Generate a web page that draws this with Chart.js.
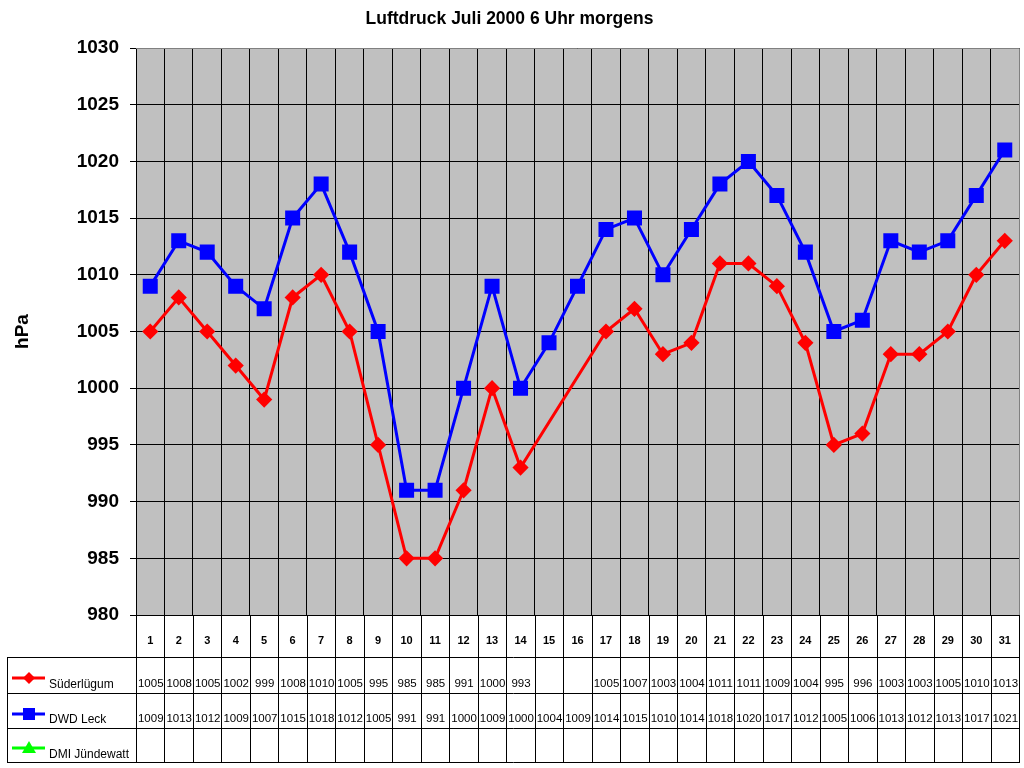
<!DOCTYPE html>
<html>
<head>
<meta charset="utf-8">
<script src="https://cdn.jsdelivr.net/npm/chart.js@4"></script>
<style>
html,body{margin:0;padding:0;background:#fff;}
#wrap{width:1024px;height:768px;position:relative;}
</style>
</head>
<body>
<div id="wrap"><canvas id="c" width="1024" height="768"></canvas></div>
<script>
const days = ['1','2','3','4','5','6','7','8','9','10','11','12','13','14','15','16','17','18','19','20','21','22','23','24','25','26','27','28','29','30','31'];
const suederluegum = [1005,1008,1005,1002,999,1008,1010,1005,995,985,985,991,1000,993,null,null,1005,1007,1003,1004,1011,1011,1009,1004,995,996,1003,1003,1005,1010,1013];
const dwdLeck = [1009,1013,1012,1009,1007,1015,1018,1012,1005,991,991,1000,1009,1000,1004,1009,1014,1015,1010,1014,1018,1020,1017,1012,1005,1006,1013,1012,1013,1017,1021];
const dmiJuendewatt = [null,null,null,null,null,null,null,null,null,null,null,null,null,null,null,null,null,null,null,null,null,null,null,null,null,null,null,null,null,null,null];
const seriesNames = ['Süderlügum','DWD Leck','DMI Jündewatt'];
const yTicksMin = 980, yTicksMax = 1030, yStep = 5;

const FONT = "'Liberation Sans', Arial, sans-serif";

const bgPlugin = {
  id: 'bg',
  beforeDraw(chart) {
    const {ctx, chartArea: a} = chart;
    ctx.save();
    ctx.fillStyle = '#ffffff';
    ctx.fillRect(0, 0, chart.width, chart.height);
    ctx.fillStyle = '#c0c0c0';
    ctx.fillRect(a.left, a.top, a.right - a.left, a.bottom - a.top);
    ctx.restore();
  }
};

function drawMarker(ctx, style, x, y, color) {
  ctx.fillStyle = color;
  ctx.beginPath();
  if (style === 'diamond') {
    const r = 6;
    ctx.moveTo(x, y - r); ctx.lineTo(x + r, y); ctx.lineTo(x, y + r); ctx.lineTo(x - r, y);
  } else if (style === 'square') {
    const s = 6;
    ctx.rect(x - s, y - s, 2 * s, 2 * s);
  } else {
    const r = 7;
    ctx.moveTo(x, y - r); ctx.lineTo(x + r, y + r * 0.7); ctx.lineTo(x - r, y + r * 0.7);
  }
  ctx.closePath();
  ctx.fill();
}

const tablePlugin = {
  id: 'table',
  afterDraw(chart) {
    const {ctx, chartArea: a} = chart;
    const xs = chart.scales.x;
    const n = days.length;
    const w = (a.right - a.left) / n;
    ctx.save();
    ctx.strokeStyle = '#808080';
    ctx.lineWidth = 1;
    ctx.beginPath();
    ctx.moveTo(a.left, a.top + 0.5); ctx.lineTo(a.right + 0.5, a.top + 0.5);
    ctx.lineTo(a.right + 0.5, a.bottom);
    ctx.stroke();

    const rowY = [657, 693, 728, 762];
    const tableLeft = 7;
    ctx.strokeStyle = '#000';
    ctx.beginPath();
    rowY.forEach(y => { ctx.moveTo(tableLeft, y + 0.5); ctx.lineTo(a.right + 1, y + 0.5); });
    ctx.moveTo(tableLeft + 0.5, rowY[0]); ctx.lineTo(tableLeft + 0.5, rowY[3] + 1);
    for (let i = 0; i <= n; i++) {
      const x = Math.round(a.left + i * w) + 0.5;
      ctx.moveTo(x, a.bottom); ctx.lineTo(x, rowY[3] + 1);
    }
    ctx.stroke();

    ctx.font = '11.5px ' + FONT;
    ctx.fillStyle = '#000';
    ctx.textAlign = 'center';
    ctx.textBaseline = 'middle';
    const rows = [suederluegum, dwdLeck, dmiJuendewatt];
    const valY = [684, 719, 754];
    rows.forEach((arr, r) => {
      arr.forEach((v, i) => {
        if (v === null) return;
        ctx.fillText(String(v), xs.getPixelForValue(i) + 0.5, valY[r]);
      });
    });

    const colors = ['#ff0000', '#0000ff', '#00ff00'];
    const styles = ['diamond', 'square', 'triangle'];
    const keyY = [678, 714, 748];
    const labY = [685, 720, 755];
    for (let r = 0; r < 3; r++) {
      ctx.strokeStyle = colors[r];
      ctx.lineWidth = 3;
      ctx.beginPath();
      ctx.moveTo(12, keyY[r]); ctx.lineTo(45, keyY[r]);
      ctx.stroke();
      drawMarker(ctx, styles[r], 29, keyY[r], colors[r]);
      ctx.fillStyle = '#000';
      ctx.textAlign = 'left';
      ctx.font = '12px ' + FONT;
      ctx.fillText(seriesNames[r], 49, labY[r]);
    }
    ctx.restore();
  }
};

new Chart(document.getElementById('c'), {
  type: 'line',
  data: {
    labels: days,
    datasets: [
      {
        label: seriesNames[0], data: suederluegum,
        borderColor: '#ff0000', backgroundColor: '#ff0000',
        borderWidth: 3, pointStyle: 'rectRot', pointRadius: 6, pointHoverRadius: 6,
        tension: 0, spanGaps: true
      },
      {
        label: seriesNames[1], data: dwdLeck,
        borderColor: '#0000ff', backgroundColor: '#0000ff',
        borderWidth: 3, pointStyle: 'rect', pointRadius: 8.5, pointHoverRadius: 8.5,
        tension: 0
      },
      {
        label: seriesNames[2], data: dmiJuendewatt,
        borderColor: '#00ff00', backgroundColor: '#00ff00',
        borderWidth: 3, pointStyle: 'triangle', pointRadius: 7,
        tension: 0
      }
    ]
  },
  options: {
    responsive: false,
    animation: false,
    events: [],
    layout: { autoPadding: false, padding: { left: 0, right: 5, top: 0, bottom: 0 } },
    plugins: {
      legend: { display: false },
      tooltip: { enabled: false },
      title: {
        display: true,
        text: 'Luftdruck Juli 2000 6 Uhr morgens',
        color: '#000',
        font: { family: FONT, size: 17.5, weight: 'bold' },
        padding: { top: 9, bottom: 18 }
      }
    },
    scales: {
      x: {
        type: 'category',
        offset: true,
        grid: { color: '#000', offset: true, drawTicks: true, tickLength: 19, tickColor: 'rgba(0,0,0,0)', lineWidth: 1 },
        border: { color: '#000', width: 1 },
        ticks: {
          color: '#000', font: { family: FONT, size: 11, weight: 'bold' },
          padding: 0, maxRotation: 0, autoSkip: false
        },
        afterFit(s) { s.height = 153; s.paddingLeft = 0; s.paddingRight = 0; }
      },
      y: {
        min: yTicksMin, max: yTicksMax,
        grid: { color: '#000', tickLength: 6, lineWidth: 1 },
        border: { color: '#000', width: 1 },
        ticks: {
          stepSize: yStep, color: '#000',
          font: { family: FONT, size: 19, weight: 'bold' },
          padding: 11,
          callback: v => String(v)
        },
        title: {
          display: true, text: 'hPa', color: '#000',
          font: { family: FONT, size: 19, weight: 'bold' },
          padding: { top: 11, bottom: 0 }
        },
        afterFit(s) { s.width = 136; }
      }
    }
  },
  plugins: [bgPlugin, tablePlugin]
});
</script>
</body>
</html>
